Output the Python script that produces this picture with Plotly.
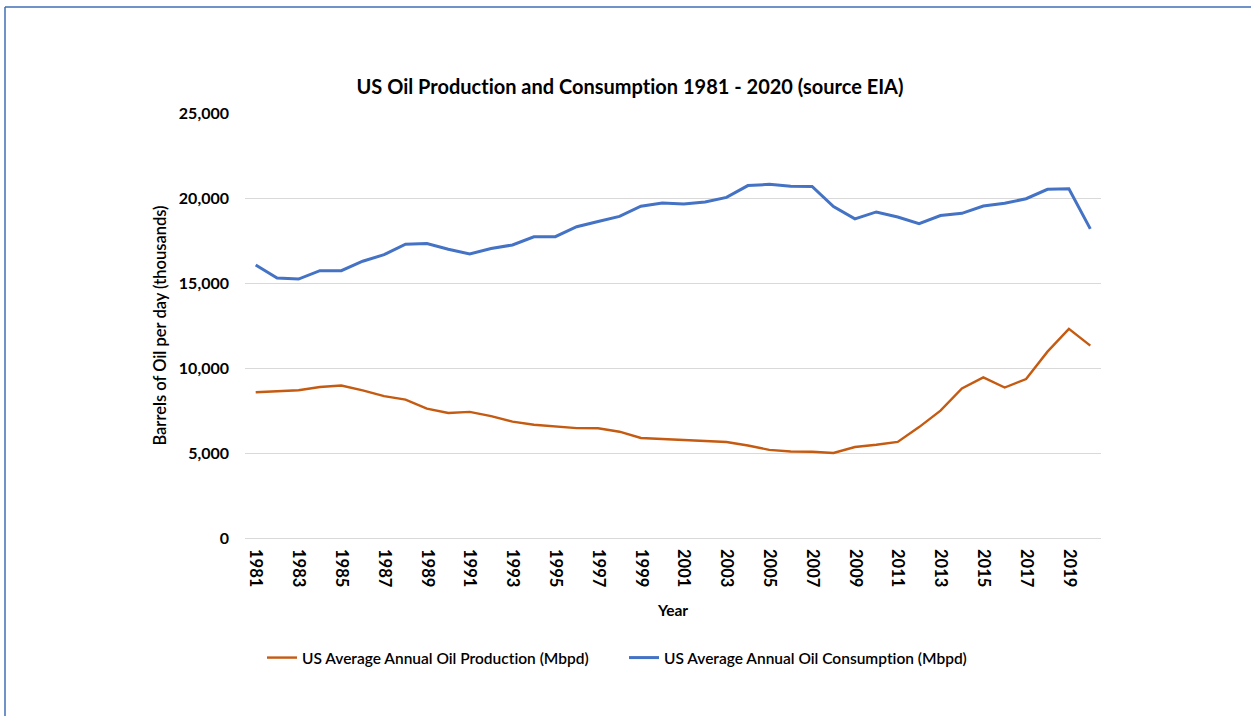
import plotly.graph_objects as go

years = list(range(1981, 2021))
production = [8572, 8649, 8688, 8879, 8971, 8680, 8349, 8140, 7613, 7355,
              7417, 7171, 6847, 6662, 6560, 6465, 6452, 6252, 5881, 5822,
              5801, 5744, 5649, 5441, 5184, 5088, 5077, 5000, 5353, 5482,
              5652, 6523, 7494, 8793, 9446, 8852, 9352, 10962, 12305, 11318]
consumption = [16058, 15296, 15231, 15726, 15726, 16281, 16665, 17283, 17325, 16988,
               16714, 17033, 17237, 17718, 17725, 18309, 18620, 18917, 19519, 19701,
               19649, 19761, 20034, 20731, 20802, 20687, 20680, 19498, 18771, 19180,
               18882, 18490, 18967, 19100, 19531, 19692, 19958, 20512, 20543, 18183]
tick_years = list(range(1981, 2020, 2))
y_ticks = [0, 5000, 10000, 15000, 20000, 25000]

W, H = 1251, 716
L, R, T, B = 245, 150, 113, 178
pw, ph = W - L - R, H - T - B

def px2x(px):
    return (px - L) / pw

def px2y(py):
    return (H - B - py) / ph

FONT = "Lato"

fig = go.Figure()
fig.add_trace(go.Scatter(x=years, y=production, mode="lines",
                         name="US Average Annual Oil Production (Mbpd)",
                         line=dict(color="#C55A11", width=2.4)))
fig.add_trace(go.Scatter(x=years, y=consumption, mode="lines",
                         name="US Average Annual Oil Consumption (Mbpd)",
                         line=dict(color="#4472C4", width=3)))

fig.update_layout(
    width=W, height=H,
    margin=dict(l=L, r=R, t=T, b=B, autoexpand=False),
    paper_bgcolor="white", plot_bgcolor="white",
    font=dict(family=FONT, color="#000000"),
    title=dict(text="<b>US Oil Production and Consumption 1981 - 2020 (source EIA)</b>",
               x=630 / W, xanchor="center", xref="container",
               y=1 - 87 / H, yanchor="middle", yref="container",
               font=dict(size=20, color="#000000", family=FONT)),
    xaxis=dict(range=[1980.5, 2020.5], tickmode="array", tickvals=tick_years,
               ticktext=["<b>%d</b>" % y for y in tick_years], tickangle=90,
               showgrid=False, zeroline=False, showline=False, ticks="",
               ticklabelstandoff=10,
               tickfont=dict(size=16.5, color="#000000"),
               title=dict(text="<b>Year</b>", font=dict(size=15.5, color="#000000"), standoff=18)),
    yaxis=dict(range=[0, 25000], tickmode="array", tickvals=y_ticks,
               ticktext=["<b>{:,}</b>".format(v) for v in y_ticks],
               showgrid=True, gridcolor="#D9D9D9", gridwidth=1,
               zeroline=True, zerolinecolor="#D9D9D9", zerolinewidth=1,
               showline=False, ticks="", ticklabelstandoff=15,
               tickfont=dict(size=16, color="#000000"),
               title=dict(text="Barrels of Oil per day (thousands)",
                          font=dict(size=16.5, color="#000000", weight=600), standoff=8)),
    legend=dict(orientation="h", x=px2x(262), xanchor="left", y=px2y(658), yanchor="middle",
                font=dict(size=15.5, color="#000000", weight=600),
                entrywidth=317, entrywidthmode="pixels",
                bgcolor="rgba(0,0,0,0)", tracegroupgap=0),
    showlegend=True,
)

# outer chart frame (blue border at top and left)
border = "#3F6FB6"
fig.add_shape(type="line", xref="paper", yref="paper",
              x0=px2x(5), x1=px2x(W), y0=px2y(7), y1=px2y(7),
              line=dict(color=border, width=1.5))
fig.add_shape(type="line", xref="paper", yref="paper",
              x0=px2x(5), x1=px2x(5), y0=px2y(7), y1=px2y(H),
              line=dict(color=border, width=1.5))

post = ("document.body.style.margin='0';"
        "var s=document.createElement('style');"
        "s.innerHTML='svg text{font-variant-ligatures:none !important;font-feature-settings:\"liga\" 0 !important;}';"
        "document.head.appendChild(s);")
fig.write_html("out.html", post_script=post, config={"displayModeBar": False})
